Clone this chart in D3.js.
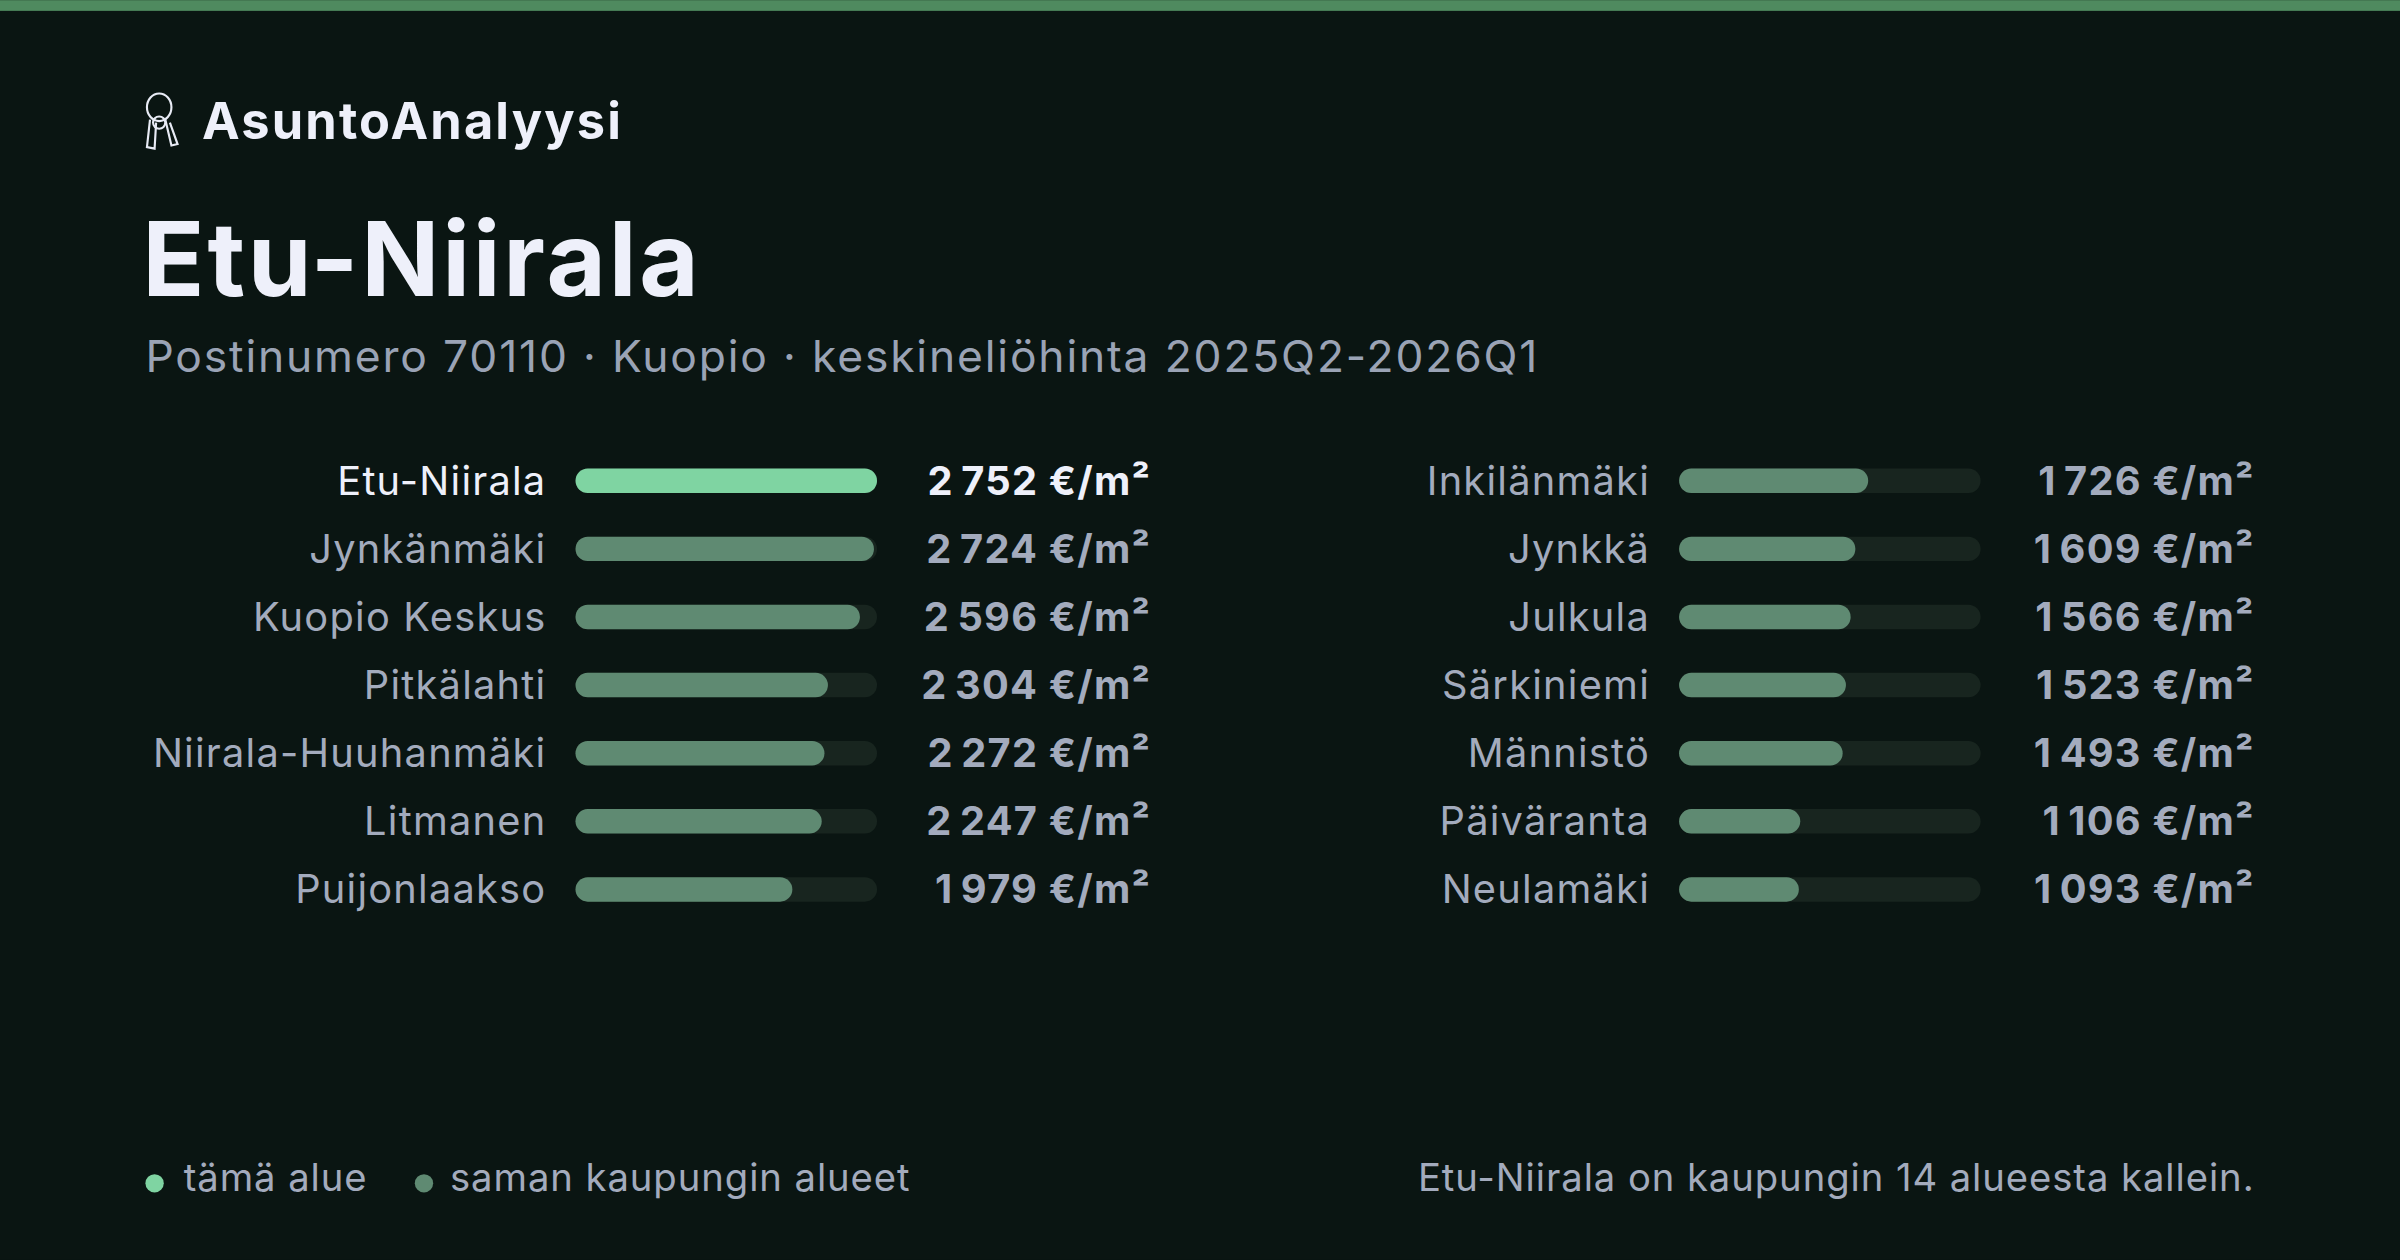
<!DOCTYPE html><html><head><meta charset="utf-8"><script src="https://cdn.jsdelivr.net/npm/d3@7"></script>
<style>body{margin:0;background:#0a1512}svg{display:block}</style></head><body><svg id="c" width="2400" height="1260" viewBox="0 0 1568 823"></svg>
<script>
const areas=["Etu-Niirala","Jynkänmäki","Kuopio Keskus","Pitkälahti","Niirala-Huuhanmäki","Litmanen","Puijonlaakso","Inkilänmäki","Jynkkä","Julkula","Särkiniemi","Männistö","Päiväranta","Neulamäki"];
const prices=[2752,2724,2596,2304,2272,2247,1979,1726,1609,1566,1523,1493,1106,1093];
const highlight="Etu-Niirala";
const F="Inter, 'Open Sans', sans-serif";
const svg=d3.select("#c");
svg.append("rect").attr("width",1568).attr("height",823).attr("fill","#0a1512");
svg.append("rect").attr("width",1568).attr("height",7).attr("fill","#4f8a5f");
const k=svg.append("g").attr("fill","none").attr("stroke","#e8ebf5").attr("stroke-width",1.4);
k.append("ellipse").attr("cx",104).attr("cy",70).attr("rx",8).attr("ry",9);
k.append("path").attr("d","M98 78 L96 96 L101 97 L102 80 M108 78 L112 95 L116 94 L111 80");
k.append("circle").attr("cx",104).attr("cy",80).attr("r",4);
svg.append("text").attr("x",132).attr("y",91).attr("font-family",F).attr("font-weight",700).attr("font-size",33).attr("letter-spacing",1.4).attr("fill","#eef0fa").text("AsuntoAnalyysi");
svg.append("text").attr("x",93).attr("y",193).attr("font-family",F).attr("font-weight",700).attr("font-size",67).attr("fill","#eef0fa").attr("letter-spacing",1.8).text("Etu-Niirala");
svg.append("text").attr("x",95).attr("y",243).attr("font-family",F).attr("font-size",29).attr("letter-spacing",1.2).attr("fill","#9aa3b5").text("Postinumero 70110 · Kuopio · keskineliöhinta 2025Q2-2026Q1");
const x=d3.scaleLinear().domain([0,d3.max(prices)]).range([0,197]);
const y=d3.scalePoint().domain(d3.range(7)).range([314,581]);
const fmt=v=>d3.format(",")(v).replace(",","\u2009")+" €/m²";
const cols=[{lab:357,bar:376,val:752},{lab:1078,bar:1097,val:1473}];
areas.forEach((a,i)=>{const c=cols[Math.floor(i/7)],cy=y(i%7),hl=a===highlight;
 svg.append("rect").attr("x",c.bar).attr("y",cy-8).attr("width",197).attr("height",16).attr("rx",8).attr("fill","#18251f");
 svg.append("rect").attr("x",c.bar).attr("y",cy-8).attr("width",x(prices[i])).attr("height",16).attr("rx",8).attr("fill",hl?"#7fd4a2":"#5f8a72");
 svg.append("text").attr("x",c.lab).attr("y",cy+9).attr("text-anchor","end").attr("font-family",F).attr("font-size",26).attr("letter-spacing",0.8).attr("fill",hl?"#eef0fa":"#a3abbd").text(a);
 svg.append("text").attr("x",c.val).attr("y",cy+9).attr("text-anchor","end").attr("font-family",F).attr("font-weight",700).attr("font-size",26).attr("letter-spacing",0.8).attr("fill",hl?"#eef0fa":"#a3abbd").text(fmt(prices[i]));
});
const L=svg.append("g").attr("font-family",F).attr("font-size",25).attr("letter-spacing",0.6).attr("fill","#a3abbd");
L.append("circle").attr("cx",101).attr("cy",773).attr("r",6).attr("fill","#7fd4a2");
L.append("text").attr("x",120).attr("y",778).text("tämä alue");
L.append("circle").attr("cx",277).attr("cy",773).attr("r",6).attr("fill","#5f8a72");
L.append("text").attr("x",294).attr("y",778).text("saman kaupungin alueet");
L.append("text").attr("x",1473).attr("y",778).attr("text-anchor","end").text(`${highlight} on kaupungin ${areas.length} alueesta kallein.`);
</script></body></html>
